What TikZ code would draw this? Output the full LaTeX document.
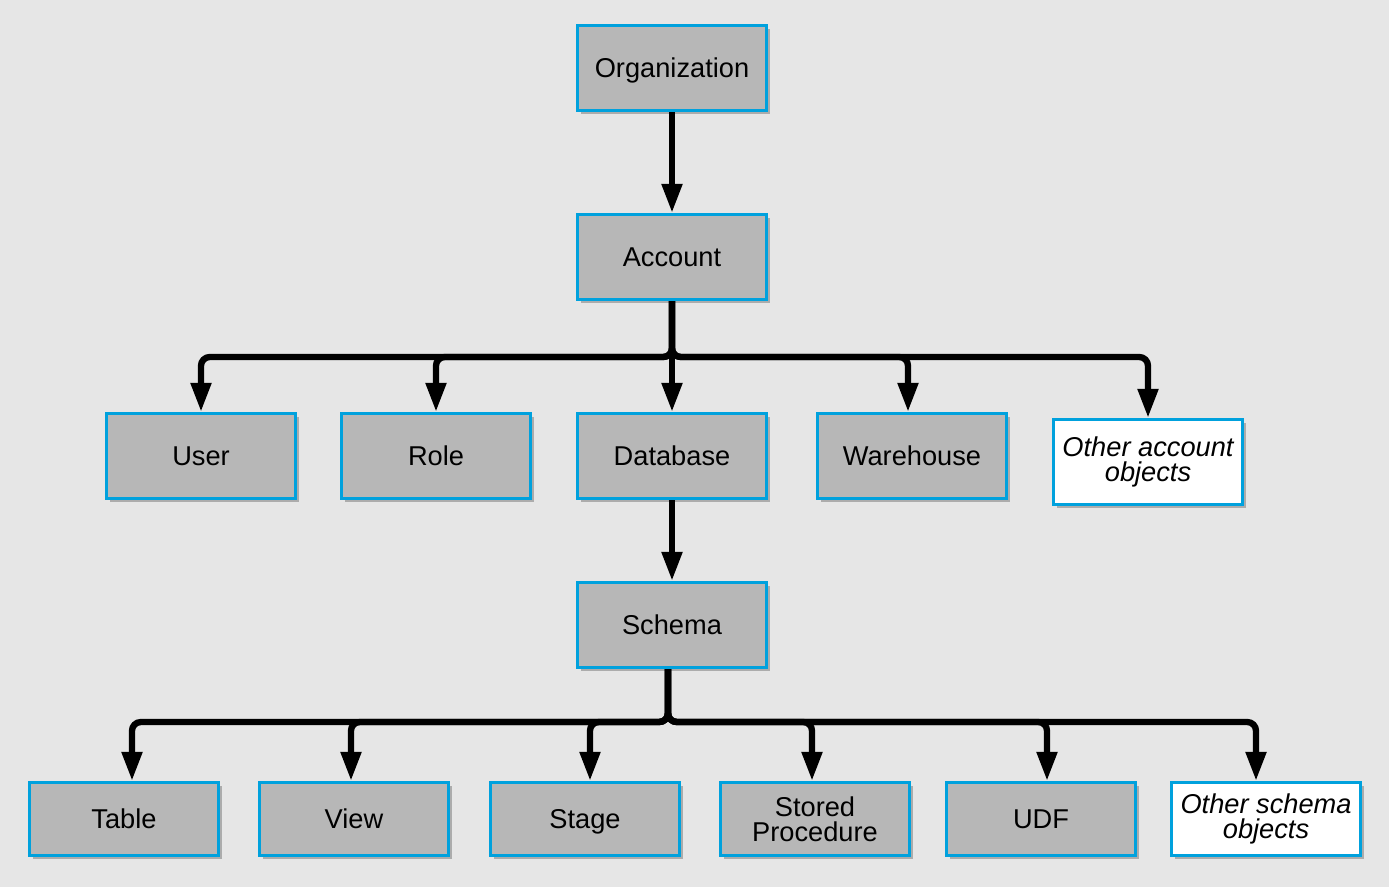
\documentclass[tikz,border=0pt]{standalone}
\usepackage{fontspec}
\setmainfont{Liberation Sans}
\usepackage{tikz}
\usetikzlibrary{arrows.meta,shadows,calc}

\definecolor{bgcol}{RGB}{230,230,230}
\definecolor{boxcol}{RGB}{183,183,183}
\definecolor{edgecol}{RGB}{0,161,221}

\tikzset{
	obj/.style={draw=edgecol, line width=1.8pt, fill=boxcol, minimum width=3.78cm, minimum height=1.70cm, align=center, text depth=0pt, font=\fontsize{15.5}{14.5}\selectfont, drop shadow={shadow xshift=2pt, shadow yshift=-2pt, fill=black, opacity=0.25}},
	twoline/.style={obj, text depth=},
	other/.style={twoline, fill=white, font=\fontsize{15.5}{14.5}\selectfont\itshape},
	leaf/.style={minimum height=1.46cm},
	link/.style={line width=3.6pt, rounded corners=5pt, -{Triangle[length=0.58cm, width=0.39cm]}}
}

\begin{document}
\begin{tikzpicture}[x=0.02cm, y=-0.02cm]
	
	\fill[bgcol] (0,0) rectangle (1389,887);
	\useasboundingbox (0,0) rectangle (1389,887);
	
	% top
	\node[obj] (org) at (672,68) {Organization};
	\node[obj] (acc) at (672,257) {Account};
	
	% account objects
	\node[obj] (user) at (201,456) {User};
	\node[obj] (role) at (436,456) {Role};
	\node[obj] (db) at (672,456) {Database};
	\node[obj] (wh) at (912,456) {Warehouse};
	\node[other] (oacc) at (1148,462) {Other account\\objects};
	
	% schema objects
	\node[obj] (sch) at (672,625) {Schema};
	\node[obj, leaf] (tab) at (124,819) {Table};
	\node[obj, leaf] (view) at (354,819) {View};
	\node[obj, leaf] (stage) at (585,819) {Stage};
	\node[twoline, leaf] (proc) at (815,819) {Stored\\Procedure};
	\node[obj, leaf] (udf) at (1041,819) {UDF};
	\node[other, leaf] (osch) at (1266,819) {Other schema\\objects};
	
	\coordinate (abus) at (672,357);
	\coordinate (sbus) at (668,722);
	
	\draw[link] (org) -- (acc);
	\draw[link] (db) -- (sch);
	\foreach \n/\d in {user/0,role/0,db/0,wh/-4,oacc/0}
		\draw[link] (acc.south) -- (abus) -| ($(\n.north)+(\d,0)$);
	\foreach \n/\d in {tab/8,view/-3,stage/5,proc/-3,udf/6,osch/-10}
		\draw[link] (sch.south -| sbus) -- (sbus) -| ($(\n.north)+(\d,0)$);
	
\end{tikzpicture}
\end{document}
